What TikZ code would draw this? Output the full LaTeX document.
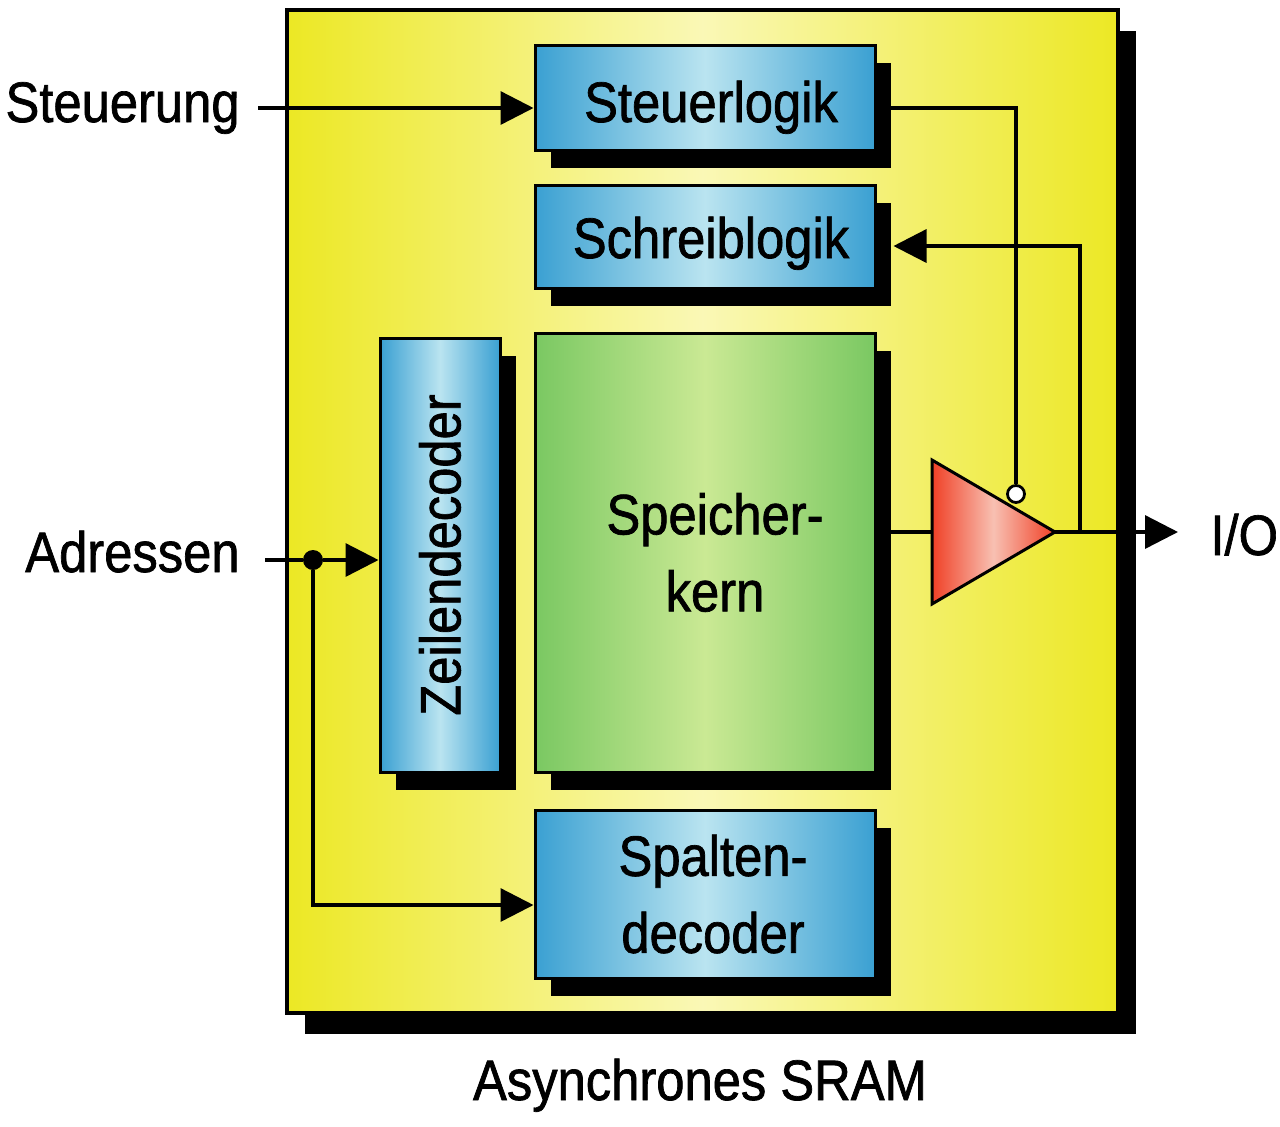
\documentclass[tikz,border=0pt]{standalone}
\usepackage{graphicx}
\usepackage{fontspec}
\setmainfont[FakeStretch=0.89,FakeBold=1.2]{Liberation Sans}
\usetikzlibrary{shadows,arrows.meta,calc}
\definecolor{ylw}{RGB}{236,232,36}
\definecolor{ylwpale}{RGB}{250,248,182}
\definecolor{bluedark}{RGB}{58,160,210}
\definecolor{bluelight}{RGB}{186,228,240}
\definecolor{grndark}{RGB}{122,200,98}
\definecolor{grnlight}{RGB}{202,233,148}
\definecolor{reddark}{RGB}{240,64,38}
\definecolor{redlight}{RGB}{248,192,178}
\newcommand\lblfont{\fontsize{28.5pt}{38.5pt}\selectfont}
\begin{document}
\begin{tikzpicture}[x=0.5pt,y=-0.5pt,
  lbl/.style={font=\lblfont, inner sep=0pt},
  outerbox/.style={draw=black, line width=2pt, left color=ylw, right color=ylw, middle color=ylwpale,
    general shadow={fill=black, shadow xshift=9pt, shadow yshift=-10.5pt}},
  bluebox/.style={draw=black, line width=1.5pt, left color=bluedark, right color=bluedark, middle color=bluelight,
    general shadow={fill=black, shadow xshift=8pt, shadow yshift=-9pt},
    font=\lblfont, align=center, inner sep=0pt, minimum width=170pt},
  greenbox/.style={bluebox, left color=grndark, right color=grndark, middle color=grnlight},
  wire/.style={line width=1.7pt, black},
  arr/.style={wire, -{Triangle[length=16.5pt,width=16.5pt]}},
  bubble/.style={circle, draw=black, fill=white, line width=1.4pt, minimum size=8.5pt, inner sep=0pt},
  jdot/.style={circle, fill=black, minimum size=10pt, inner sep=0pt}
]
\useasboundingbox (0,0) rectangle (1280,1126);
\fill[white] (0,0) rectangle (1280,1126);

% outer chip
\node[outerbox, minimum width=415.5pt, minimum height=501.5pt] (sram) at (702.5,511.5) {};

% blocks
\node[bluebox, minimum height=52.5pt, text height=27pt, text depth=2.5pt] (stl) at (705,97.5) {\hspace*{6pt}Steuerlogik};
\node[bluebox, minimum height=51.5pt, text height=24pt, text depth=2.5pt] (schr) at (705,236.5) {\hspace*{6pt}Schreiblogik};
\node[bluebox, minimum width=60pt, minimum height=217pt] (zd) at (440,555) {\rotatebox{90}{Zeilendecoder}};
\node[greenbox, minimum height=219.5pt] (spk) at (705,552.5) {\hspace*{10pt}Speicher-\\\hspace*{10pt}kern};
\node[bluebox, minimum height=84pt] (spd) at (705,894) {\hspace*{8pt}Spalten-\\\hspace*{8pt}decoder};

% outside labels
\node[lbl, anchor=base east] (steu) at (240,122) {Steuerung};
\node[lbl, anchor=base east] (adr) at (240,572) {Adressen};
\node[lbl, anchor=base west] (io) at (1210,555) {I/O};
\node[lbl, anchor=base] (title) at (700,1100) {Asynchrones SRAM};

% tri-state output driver
\coordinate (ttop) at (932,460);
\coordinate (tbot) at (932,604);
\coordinate (tap) at (1055,532);
\coordinate (tin) at (932,532);
\shadedraw[left color=reddark, right color=reddark, middle color=redlight, draw=black, line width=1.5pt, line join=miter]
  (ttop) -- (tap) -- (tbot) -- cycle;
\node[bubble] (bub) at (1016,494) {};

% connectors
\coordinate (stlin) at ([yshift=-5.25pt]stl.west);
\draw[arr] ($(steu.east |- stlin)+(18,0)$) -- (stlin);
\draw[wire] (stl.east |- stlin) -| (bub.north);
\draw[wire] (spk.east |- tin) -- (tin);
\coordinate (j1) at (1080,532);
\draw[arr] (j1) |- ([xshift=8.5pt,yshift=-4.75pt]schr.east);
\draw[arr] (tap) -- ([xshift=-16pt]io.west |- tap);

\node[jdot] (dot) at (313,560) {};
\draw[wire] ($(adr.east |- dot)+(25,0)$) -- (dot);
\draw[arr] (dot) -- (dot -| zd.west);
\draw[arr] (dot) |- ([yshift=-5.5pt]spd.west);
\end{tikzpicture}
\end{document}
